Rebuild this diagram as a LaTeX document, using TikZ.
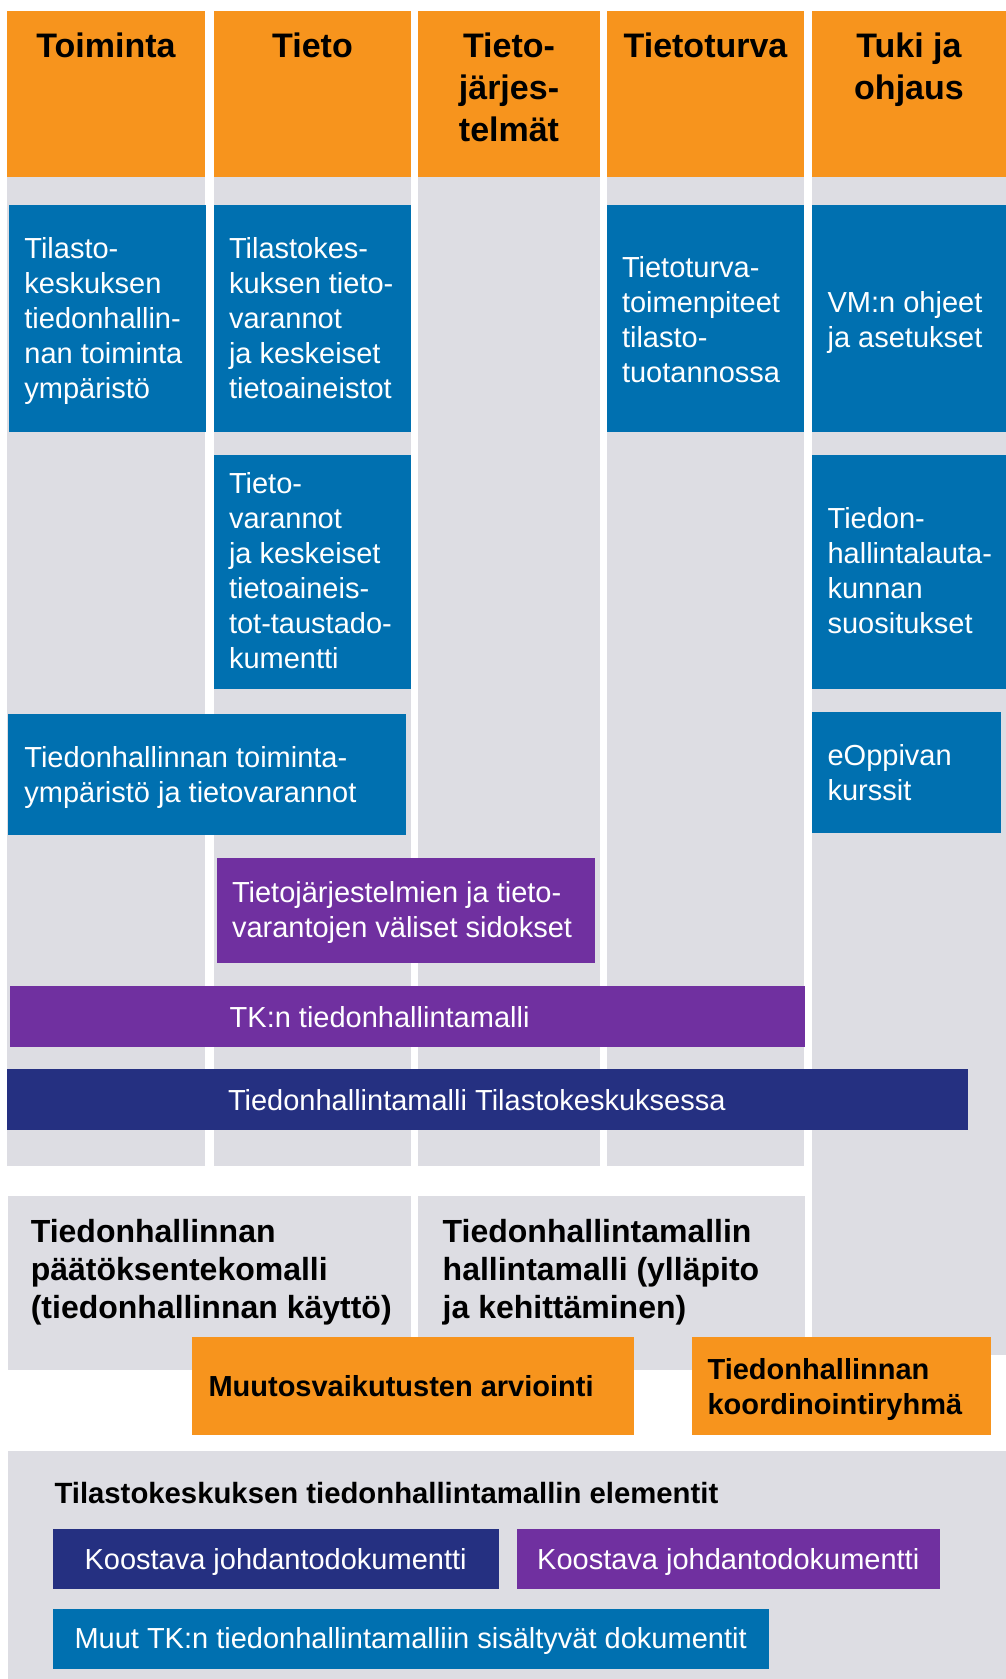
\documentclass[tikz,border=0pt]{standalone}
\usepackage{fontspec}
\setmainfont{Liberation Sans}
\definecolor{orng}{HTML}{F7941D}
\definecolor{blu}{HTML}{0070B0}
\definecolor{purp}{HTML}{7030A0}
\definecolor{navy}{HTML}{253081}
\definecolor{gry}{HTML}{DDDDE3}
\tikzset{
  rect/.style={inner sep=0pt, outer sep=0pt, anchor=north west, draw=none},
  txt/.style={inner sep=0pt, outer sep=0pt, align=left, font=\fontsize{29}{35}\selectfont},
  wtxt/.style={txt, text=white},
  btxt/.style={txt, font=\fontsize{29}{35}\selectfont\bfseries},
  gtxt/.style={txt, font=\fontsize{32}{38}\selectfont\bfseries, anchor=north west},
  hdr/.style={inner sep=0pt, outer sep=0pt, align=center, font=\fontsize{34}{42}\selectfont\bfseries, anchor=north},
  legtxt/.style={text=white, font=\fontsize{29}{35}\selectfont}
}
\begin{document}
\begin{tikzpicture}[x=1pt,y=-1pt]
\useasboundingbox (0,0) rectangle (1006,1679);
\fill[white] (0,0) rectangle (1006,1679);
% headers
\node[rect, fill=orng, minimum width=198pt, minimum height=166pt] (h1) at (7,11) {};
\node[rect, fill=orng, minimum width=197pt, minimum height=166pt] (h2) at (214,11) {};
\node[rect, fill=orng, minimum width=182pt, minimum height=166pt] (h3) at (418,11) {};
\node[rect, fill=orng, minimum width=197pt, minimum height=166pt] (h4) at (607,11) {};
\node[rect, fill=orng, minimum width=194pt, minimum height=166pt] (h5) at (812,11) {};
% grey columns
\node[rect, fill=gry, minimum width=198pt, minimum height=989pt] (c1) at (7,177) {};
\node[rect, fill=gry, minimum width=197pt, minimum height=989pt] (c2) at (214,177) {};
\node[rect, fill=gry, minimum width=182pt, minimum height=989pt] (c3) at (418,177) {};
\node[rect, fill=gry, minimum width=197pt, minimum height=989pt] (c4) at (607,177) {};
\node[rect, fill=gry, minimum width=194pt, minimum height=1178pt] (c5) at (812,177) {};
% header texts
\node[hdr] (ht1) at (106,32.7) {Toiminta};
\node[hdr] (ht2) at (312.5,32.7) {Tieto};
\node[hdr] (ht3) at (509,32.7) {Tieto-\\järjes-\\telmät};
\node[hdr] (ht4) at (705.5,32.7) {Tietoturva};
\node[hdr] (ht5) at (909,32.7) {Tuki ja\\ohjaus};
% blue boxes
\node[rect, fill=blu, minimum width=197pt, minimum height=227pt] (b1) at (9,205) {};
\node[rect, fill=blu, minimum width=197pt, minimum height=227pt] (b2) at (214,205) {};
\node[rect, fill=blu, minimum width=197pt, minimum height=227pt] (b4) at (607,205) {};
\node[rect, fill=blu, minimum width=194pt, minimum height=227pt] (b5) at (812,205) {};
\node[rect, fill=blu, minimum width=197pt, minimum height=234pt] (b6) at (214,455) {};
\node[rect, fill=blu, minimum width=194pt, minimum height=234pt] (b7) at (812,455) {};
\node[rect, fill=blu, minimum width=398pt, minimum height=121pt] (b8) at (7.7,714) {};
\node[rect, fill=blu, minimum width=189pt, minimum height=121pt] (b9) at (812,712) {};
\node[rect, fill=purp, minimum width=378pt, minimum height=105pt] (b10) at (217,858) {};
\node[rect, fill=purp, minimum width=794.5pt, minimum height=61pt] (b11) at (10,986) {};
\node[rect, fill=navy, minimum width=961pt, minimum height=61pt] (b12) at (7,1069) {};
% box texts
\node[wtxt, anchor=north west] (t1) at (24.4,237) {Tilasto-\\keskuksen\\tiedonhallin-\\nan toiminta\\ympäristö};
\node[wtxt, anchor=north west] (t2) at (229,237) {Tilastokes-\\kuksen tieto-\\varannot\\ja keskeiset\\tietoaineistot};
\node[wtxt, anchor=north west] (t4) at (622,256) {Tietoturva-\\toimenpiteet\\tilasto-\\tuotannossa};
\node[wtxt, anchor=north west] (t5) at (827.6,291) {VM:n ohjeet\\ja asetukset};
\node[wtxt, anchor=north west] (t6) at (229,472) {Tieto-\\varannot\\ja keskeiset\\tietoaineis-\\tot-taustado-\\kumentti};
\node[wtxt, anchor=north west] (t7) at (827.6,507) {Tiedon-\\hallintalauta-\\kunnan\\suositukset};
\node[wtxt, anchor=north west] (t8) at (24.4,746) {Tiedonhallinnan toiminta-\\ympäristö ja tietovarannot};
\node[wtxt, anchor=north west] (t9) at (827.6,744) {eOppivan\\kurssit};
\node[wtxt, anchor=north west] (t10) at (232,881) {Tietojärjestelmien ja tieto-\\varantojen väliset sidokset};
\node[wtxt, anchor=base west] (t11) at (229.7,1027) {TK:n tiedonhallintamalli};
\node[wtxt, anchor=base west] (t12) at (228,1110.7) {Tiedonhallintamalli Tilastokeskuksessa};
% bottom grey boxes
\node[rect, fill=gry, minimum width=403pt, minimum height=174pt] (g1) at (7.7,1196) {};
\node[rect, fill=gry, minimum width=386.5pt, minimum height=174pt] (g2) at (418,1196) {};
\node[gtxt] (t13) at (30.8,1218.8) {Tiedonhallinnan\\päätöksentekomalli\\(tiedonhallinnan käyttö)};
\node[gtxt] (t14) at (442.7,1218.8) {Tiedonhallintamallin\\hallintamalli (ylläpito\\ja kehittäminen)};
% orange boxes
\node[rect, fill=orng, minimum width=442pt, minimum height=98pt] (o1) at (192,1337) {};
\node[rect, fill=orng, minimum width=299.4pt, minimum height=98pt] (o2) at (691.6,1337) {};
\node[btxt, anchor=base west] (t15) at (208.5,1396.7) {Muutosvaikutusten arviointi};
\node[btxt, anchor=north west] (t16) at (707.6,1358) {Tiedonhallinnan\\koordinointiryhmä};
% legend
\node[rect, fill=gry, minimum width=998.3pt, minimum height=228pt] (leg) at (7.7,1451) {};
\node[btxt, anchor=base west, font=\fontsize{29.3}{35}\selectfont\bfseries] (t17) at (54.5,1503) {Tilastokeskuksen tiedonhallintamallin elementit};
\node[rect, fill=navy, minimum width=446pt, minimum height=60pt] (l1) at (52.6,1529) {};
\node[rect, fill=purp, minimum width=423.5pt, minimum height=60pt] (l2) at (516.5,1529) {};
\node[rect, fill=blu, minimum width=716pt, minimum height=60pt] (l3) at (52.6,1609) {};
\node[legtxt, anchor=base] (lt1) at ([yshift=-10.5pt]l1.center) {Koostava johdantodokumentti};
\node[legtxt, anchor=base] (lt2) at ([yshift=-10.5pt]l2.center) {Koostava johdantodokumentti};
\node[legtxt, anchor=base] (lt3) at ([yshift=-9.5pt]l3.center) {Muut TK:n tiedonhallintamalliin sisältyvät dokumentit};
\end{tikzpicture}
\end{document}
